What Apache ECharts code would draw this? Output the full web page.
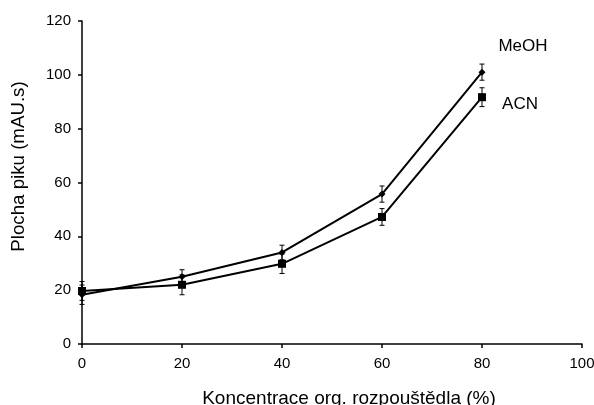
<!DOCTYPE html>
<html>
<head>
<meta charset="utf-8">
<script src="https://cdn.jsdelivr.net/npm/echarts@6/dist/echarts.min.js"></script>
<style>
  html, body { margin: 0; padding: 0; background: #fff; }
  #chart { width: 594px; height: 405px; }
</style>
</head>
<body>
<div id="chart"></div>
<script>
// Concentration of organic solvent (%)
const concentrations = [0, 20, 40, 60, 80];

// Peak area (mAU.s) and standard deviations
const meohValues = [18.3, 25.0, 34.0, 55.7, 101.0];
const meohErrors = [3.6, 2.6, 2.7, 3.0, 3.0];
const acnValues = [19.7, 22.0, 29.8, 47.2, 91.7];
const acnErrors = [3.5, 3.7, 3.6, 3.1, 3.5];

const seriesNames = ['MeOH', 'ACN'];

const FONT = '"Liberation Sans", Arial, sans-serif';

function pairs(values) {
  return concentrations.map((c, i) => [c, values[i]]);
}

function errorData(values, errors) {
  return concentrations.map((c, i) => [c, values[i] - errors[i], values[i] + errors[i]]);
}

// Vertical error bar with small caps
function renderErrorBar(params, api) {
  const x = api.value(0);
  const lo = api.coord([x, api.value(1)]);
  const hi = api.coord([x, api.value(2)]);
  const cap = 2.5;
  const style = { stroke: '#000', lineWidth: 1 };
  return {
    type: 'group',
    children: [
      { type: 'line', shape: { x1: lo[0], y1: lo[1], x2: hi[0], y2: hi[1] }, style },
      { type: 'line', shape: { x1: lo[0] - cap, y1: lo[1], x2: lo[0] + cap, y2: lo[1] }, style },
      { type: 'line', shape: { x1: hi[0] - cap, y1: hi[1], x2: hi[0] + cap, y2: hi[1] }, style }
    ]
  };
}

// Line series whose final point carries the series name as a label
function lineSeries(name, values, symbol, size, offset) {
  const data = pairs(values).map((p, i, arr) => {
    if (i !== arr.length - 1) return p;
    return {
      value: p,
      label: {
        show: true,
        formatter: name,
        position: 'inside',
        offset: offset,
        fontFamily: FONT,
        fontSize: 17,
        color: '#000'
      }
    };
  });
  return {
    name: name,
    type: 'line',
    data: data,
    symbol: symbol,
    symbolSize: size,
    showSymbol: true,
    lineStyle: { color: '#000', width: 2 },
    itemStyle: { color: '#000' },
    z: 3,
    animation: false
  };
}

const chart = echarts.init(document.getElementById('chart'), null, { renderer: 'canvas' });

chart.setOption({
  animation: false,
  backgroundColor: '#fff',
  grid: { left: 82, right: 12, top: 21, bottom: 61, containLabel: false, outerBoundsMode: 'none' },
  xAxis: {
    type: 'value',
    min: 0,
    max: 100,
    interval: 20,
    name: 'Koncentrace org. rozpouštědla (%)',
    nameLocation: 'middle',
    nameGap: 45,
    nameTextStyle: { fontFamily: FONT, fontSize: 19, color: '#000', padding: [0, 0, 0, 34] },
    axisLine: { show: true, lineStyle: { color: '#000', width: 1.5 } },
    axisTick: { show: true, inside: false, length: 4, lineStyle: { color: '#000', width: 1.5 } },
    axisLabel: { fontFamily: FONT, fontSize: 15, color: '#000', margin: 12 },
    splitLine: { show: false }
  },
  yAxis: {
    type: 'value',
    min: 0,
    max: 120,
    interval: 20,
    name: 'Plocha piku (mAU.s)',
    nameLocation: 'middle',
    nameGap: 54,
    nameRotate: 90,
    nameTextStyle: { fontFamily: FONT, fontSize: 18.7, color: '#000', padding: [0, 0, 0, 32] },
    axisLine: { show: true, lineStyle: { color: '#000', width: 1.5 } },
    axisTick: { show: true, inside: false, length: 4, lineStyle: { color: '#000', width: 1.5 } },
    axisLabel: { fontFamily: FONT, fontSize: 15, color: '#000', margin: 11 },
    splitLine: { show: false }
  },
  series: [
    lineSeries(seriesNames[0], meohValues, 'diamond', 7, [41, -26]),
    lineSeries(seriesNames[1], acnValues, 'rect', 8, [38, 7]),
    {
      type: 'custom',
      renderItem: renderErrorBar,
      data: errorData(meohValues, meohErrors),
      encode: { x: 0, y: [1, 2] },
      z: 2,
      silent: true
    },
    {
      type: 'custom',
      renderItem: renderErrorBar,
      data: errorData(acnValues, acnErrors),
      encode: { x: 0, y: [1, 2] },
      z: 2,
      silent: true
    }
  ]
});
</script>
</body>
</html>
